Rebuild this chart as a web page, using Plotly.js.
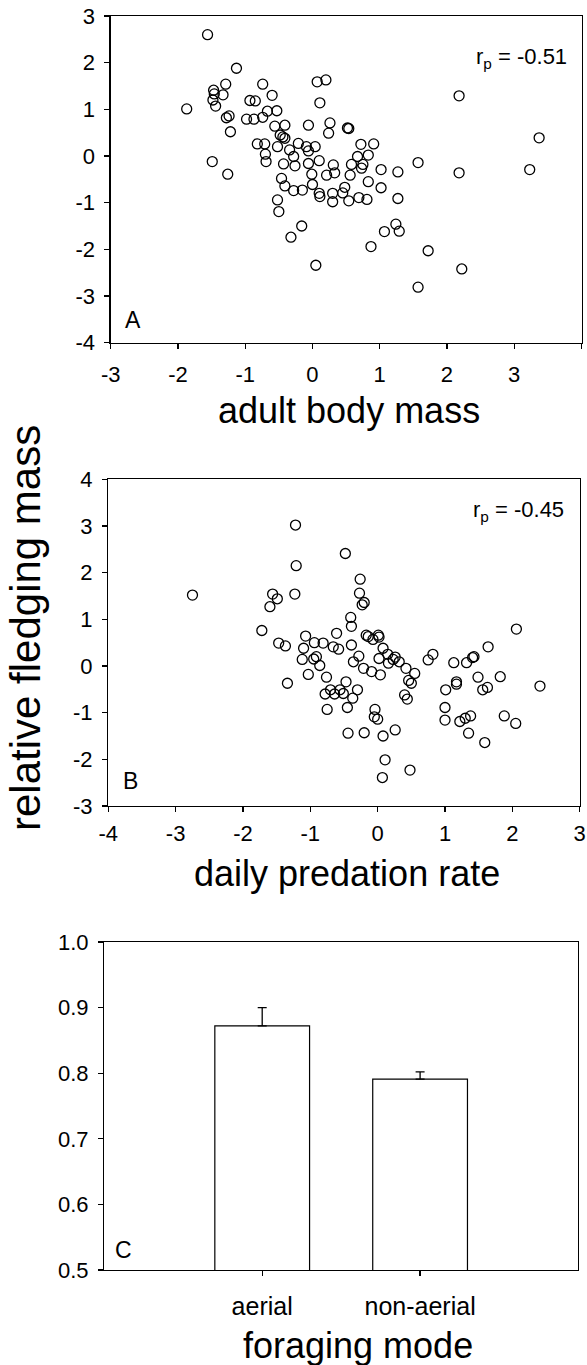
<!DOCTYPE html>
<html>
<head>
<meta charset="utf-8">
<script src="https://cdn.plot.ly/plotly-3.0.1.min.js"></script>
<style>
html,body{margin:0;padding:0;background:#fff;}
#chart{width:587px;height:1365px;}
</style>
</head>
<body>
<div id="chart"></div>
<script>
// ---------- Panel A: adult body mass vs relative fledging mass ----------
const massA_x = [-1.56,-1.13,-1.29,-0.74,-0.60,-1.47,-1.46,-1.33,-1.48,-1.44,-1.87,-0.93,-0.85,-0.67,-0.53,
  -1.28,-1.24,-0.98,-0.87,-0.74,-1.22,-0.56,-0.41,-0.48,-0.44,-0.41,-0.82,-0.71,-0.70,-0.69,-0.52,-0.34,
  -0.21,-0.09,0.04,-0.06,-0.28,-0.26,-0.43,-1.49,-1.26,-0.46,-0.41,-0.28,-0.15,-0.52,-0.50,
  0.11,-0.06,0.26,0.24,0.52,0.54,0.72,0.91,0.67,0.83,0.10,-0.06,0.31,0.58,0.75,0.73,1.02,1.27,1.57,
  -0.01,0.21,0.33,0.56,0.83,0.00,0.48,0.45,1.02,0.10,0.11,0.30,0.30,0.54,0.69,0.81,1.27,
  2.18,2.18,3.23,3.37,0.07,0.20,
  -0.32,-0.16,0.05,0.87,1.07,1.24,1.29,1.72,1.57,2.22];
const massA_y = [2.60,1.88,1.54,1.54,1.30,1.41,1.33,1.31,1.20,1.07,1.01,1.19,1.18,0.96,0.97,
  0.82,0.86,0.79,0.79,0.83,0.52,0.64,0.66,0.45,0.41,0.38,0.26,0.26,0.04,-0.12,0.20,0.13,
  0.27,0.20,0.20,0.11,-0.01,-0.21,-0.17,-0.12,-0.39,-0.48,-0.64,-0.74,-0.73,-0.94,-1.19,
  1.14,0.66,0.71,0.49,0.60,0.59,0.25,0.26,-0.01,0.02,-0.10,-0.16,-0.19,-0.18,-0.18,-0.26,-0.29,-0.34,-0.14,
  -0.39,-0.41,-0.36,-0.41,-0.55,-0.61,-0.67,-0.79,-0.68,-0.80,-0.87,-0.80,-0.98,-0.96,-0.89,-0.93,-0.91,
  1.29,-0.36,-0.29,0.39,1.59,1.63,
  -1.74,-1.50,-2.34,-1.94,-1.62,-1.46,-1.61,-2.03,-2.81,-2.42];

// ---------- Panel B: daily predation rate vs relative fledging mass ----------
const predB_x = [-2.75,-1.22,-1.21,-1.23,-0.48,-0.26,-0.27,-0.23,-0.20,-0.40,-0.39,-1.56,-1.49,-1.60,-1.72,2.06,
  -1.47,-1.37,-1.34,-1.07,-1.10,-1.12,-0.94,-0.91,-0.95,-0.81,-0.86,-1.03,-0.61,-0.66,-0.58,-0.76,
  -0.70,-0.78,-0.64,-0.56,-0.51,-0.47,-0.30,-0.37,-0.45,-0.75,-0.44,-0.20,-0.39,-0.36,-0.28,-0.21,
  -0.09,-0.17,-0.14,0.01,0.02,-0.07,0.04,0.02,0.08,0.15,0.16,0.23,0.26,0.32,0.42,0.55,0.46,0.50,
  0.40,0.44,-0.04,-0.05,0.00,0.08,0.26,0.11,0.07,0.48,0.75,0.82,1.13,1.32,1.41,1.43,1.64,1.01,
  1.17,1.17,1.49,1.56,1.63,1.82,2.41,1.00,1.00,1.22,1.30,1.38,1.35,1.59,1.88,2.05];
const predB_y = [1.52,3.02,2.15,1.54,2.41,1.86,1.56,1.31,1.36,1.04,0.85,1.54,1.44,1.27,0.76,0.79,
  0.49,0.43,-0.37,0.64,0.38,0.14,0.50,0.20,0.15,0.49,0.01,-0.18,0.70,0.41,0.36,-0.24,
  -0.51,-0.60,-0.60,-0.51,-0.59,-0.34,-0.51,-0.69,-0.89,-0.93,-1.44,-1.43,0.45,0.09,0.21,-0.05,
  -0.12,0.66,0.63,0.66,0.62,0.57,-0.19,0.16,0.38,0.25,0.06,0.14,0.19,0.09,-0.05,-0.16,-0.31,-0.37,
  -0.62,-0.71,-0.93,-1.09,-1.14,-1.50,-1.37,-2.01,-2.39,-2.23,0.13,0.25,0.07,0.07,0.18,0.20,0.41,-0.51,
  -0.34,-0.39,-0.24,-0.51,-0.46,-0.23,-0.43,-0.89,-1.16,-1.19,-1.12,-1.07,-1.44,-1.64,-1.07,-1.23];

// ---------- Panel C: foraging mode ----------
const modeC = ['aerial', 'non-aerial'];
const meanC = [0.872, 0.791];
const seC = [0.028, 0.011];

// ---------- tick labels ----------
const ticksAx = [-3,-2,-1,0,1,2,3,4];
const ticksAy = [-4,-3,-2,-1,0,1,2,3];
const ticksBx = [-4,-3,-2,-1,0,1,2,3];
const ticksBy = [-3,-2,-1,0,1,2,3,4];
const ticksCy = [0.5,0.6,0.7,0.8,0.9,1.0];
const ticksCyText = ['0.5','0.6','0.7','0.8','0.9','1.0'];

const W = 587, H = 1365;
const px = v => v / W;
const py = v => 1 - v / H;
const FONT = 'Liberation Sans, Arial, Helvetica, sans-serif';

function axis(domain, range, vals, text, standoff, extra) {
  const a = {
    domain: domain, range: range,
    tickmode: 'array', tickvals: vals, ticktext: text,
    showline: true, linecolor: 'black', linewidth: 1.3, mirror: true,
    ticks: 'outside', ticklen: 5, tickwidth: 1.3, tickcolor: 'black',
    showgrid: false, zeroline: false, fixedrange: true,
    ticklabelstandoff: standoff,
    tickfont: {family: FONT, size: 22, color: 'black'}
  };
  return Object.assign(a, extra || {});
}

const scatterMarker = {symbol: 'circle-open', size: 10, color: 'black', line: {width: 1.3, color: 'black'}};

const traces = [
  {type: 'scatter', mode: 'markers', x: massA_x, y: massA_y, xaxis: 'x', yaxis: 'y', marker: scatterMarker, hoverinfo: 'skip'},
  {type: 'scatter', mode: 'markers', x: predB_x, y: predB_y, xaxis: 'x2', yaxis: 'y2', marker: scatterMarker, hoverinfo: 'skip'},
  {type: 'bar', x: modeC, y: meanC, xaxis: 'x3', yaxis: 'y3', width: 0.6,
   marker: {color: 'white', line: {color: 'black', width: 1.2}},
   error_y: {type: 'data', symmetric: false, array: seC, arrayminus: [0, 0], color: 'black', thickness: 1.3, width: 4.5},
   hoverinfo: 'skip'}
];

const layout = {
  width: W, height: H, autosize: false,
  margin: {l: 0, r: 0, t: 0, b: 0, pad: 0},
  paper_bgcolor: 'white', plot_bgcolor: 'white',
  showlegend: false,
  font: {family: FONT, color: 'black'},
  xaxis: axis([px(110.7), px(581.5)], [-3, 4], ticksAx, ticksAx.map(String), 7, {anchor: 'y'}),
  yaxis: axis([py(342.7), py(16)], [-4, 3], ticksAy, ticksAy.map(String), 5, {anchor: 'x'}),
  xaxis2: axis([px(108.3), px(579.7)], [-4, 3], ticksBx, ticksBx.map(String), 2, {anchor: 'y2'}),
  yaxis2: axis([py(806), py(479.3)], [-3, 4], ticksBy, ticksBy.map(String), 5, {anchor: 'x2'}),
  xaxis3: {domain: [px(104.3), px(578)], range: [-1, 2], type: 'category',
    showline: true, linecolor: 'black', linewidth: 1.3, mirror: true,
    ticks: 'outside', ticklen: 5, tickwidth: 1.3, tickcolor: 'black',
    showgrid: false, zeroline: false, fixedrange: true, anchor: 'y3',
    ticklabelstandoff: 9,
    tickfont: {family: FONT, size: 25, color: 'black'}},
  yaxis3: axis([py(1270), py(942)], [0.5, 1.0], ticksCy, ticksCyText, 5, {anchor: 'x3'}),
  annotations: [
    {xref: 'paper', yref: 'paper', x: px(569), y: py(58), xanchor: 'right', yanchor: 'middle', showarrow: false,
     text: 'r<sub>p</sub> = -0.51', font: {family: FONT, size: 22, color: 'black'}},
    {xref: 'paper', yref: 'paper', x: px(566), y: py(511), xanchor: 'right', yanchor: 'middle', showarrow: false,
     text: 'r<sub>p</sub> = -0.45', font: {family: FONT, size: 22, color: 'black'}},
    {xref: 'paper', yref: 'paper', x: px(133), y: py(320), xanchor: 'center', yanchor: 'middle', showarrow: false,
     text: 'A', font: {family: FONT, size: 23, color: 'black'}},
    {xref: 'paper', yref: 'paper', x: px(130), y: py(781), xanchor: 'center', yanchor: 'middle', showarrow: false,
     text: 'B', font: {family: FONT, size: 23, color: 'black'}},
    {xref: 'paper', yref: 'paper', x: px(123.5), y: py(1250), xanchor: 'center', yanchor: 'middle', showarrow: false,
     text: 'C', font: {family: FONT, size: 23, color: 'black'}},
    {xref: 'paper', yref: 'paper', x: px(349), y: py(410), xanchor: 'center', yanchor: 'middle', showarrow: false,
     text: 'adult body mass', font: {family: FONT, size: 36, color: 'black'}},
    {xref: 'paper', yref: 'paper', x: px(347), y: py(874), xanchor: 'center', yanchor: 'middle', showarrow: false,
     text: 'daily predation rate', font: {family: FONT, size: 36, color: 'black'}},
    {xref: 'paper', yref: 'paper', x: px(358), y: py(1345), xanchor: 'center', yanchor: 'middle', showarrow: false,
     text: 'foraging mode', font: {family: FONT, size: 36, color: 'black'}},
    {xref: 'paper', yref: 'paper', x: px(26), y: py(628), xanchor: 'center', yanchor: 'middle', showarrow: false,
     textangle: -90, text: 'relative fledging mass', font: {family: FONT, size: 42, color: 'black'}}
  ]
};

Plotly.newPlot('chart', traces, layout, {staticPlot: true, displayModeBar: false});
</script>
</body>
</html>
